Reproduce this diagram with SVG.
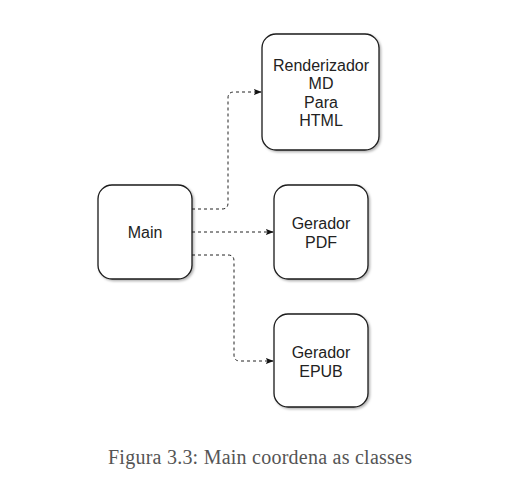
<svg xmlns="http://www.w3.org/2000/svg" width="519" height="487" viewBox="0 0 519 487">
<style>
.box{fill:#fff;stroke:#1a1a1a;stroke-width:1.3}
.lbl{font-family:"Liberation Sans",Arial,sans-serif;font-size:16px;fill:#222;text-anchor:middle}
.con{fill:none;stroke:#222;stroke-width:1;stroke-dasharray:3 3}
.cap{font-family:"Liberation Serif","Times New Roman",serif;font-size:20px;fill:#555;text-anchor:middle}
</style>
<defs>
<marker id="arr" viewBox="0 0 10 10" refX="9" refY="5" markerWidth="8" markerHeight="8" markerUnits="userSpaceOnUse" orient="auto">
<path d="M0,1 L10,5 L0,9 L2,5 Z" fill="#111"/>
</marker>
<filter id="sh" x="-10%" y="-10%" width="130%" height="130%">
<feDropShadow dx="1.5" dy="1.5" stdDeviation="1" flood-color="#000" flood-opacity="0.3"/>
</filter>
</defs>
<rect width="519" height="487" fill="#fff"/>
<g id="connectors">
<path class="con" d="M192,209 H222 Q228,209 228,203 V98 Q228,92 234,92 H261" marker-end="url(#arr)"/>
<path class="con" d="M192,232 H273" marker-end="url(#arr)"/>
<path class="con" d="M192,255 H228 Q234,255 234,261 V355 Q234,361 240,361 H273" marker-end="url(#arr)"/>
</g>
<g id="main">
<rect class="box" filter="url(#sh)" x="98" y="185" width="94" height="94" rx="14"/>
<text class="lbl" x="145" y="238">Main</text>
</g>
<g id="renderizador">
<rect class="box" filter="url(#sh)" x="262" y="34" width="117" height="116" rx="14"/>
<text class="lbl" x="321" y="71">Renderizador</text>
<text class="lbl" x="321" y="89">MD</text>
<text class="lbl" x="321" y="108">Para</text>
<text class="lbl" x="321" y="126">HTML</text>
</g>
<g id="gerador-pdf">
<rect class="box" filter="url(#sh)" x="274" y="185" width="94" height="94" rx="14"/>
<text class="lbl" x="321" y="229">Gerador</text>
<text class="lbl" x="321" y="248">PDF</text>
</g>
<g id="gerador-epub">
<rect class="box" filter="url(#sh)" x="274" y="314" width="94" height="93" rx="14"/>
<text class="lbl" x="321" y="358">Gerador</text>
<text class="lbl" x="321" y="377">EPUB</text>
</g>
<text class="cap" x="260" y="464" textLength="304" lengthAdjust="spacing">Figura 3.3: Main coordena as classes</text>
</svg>
